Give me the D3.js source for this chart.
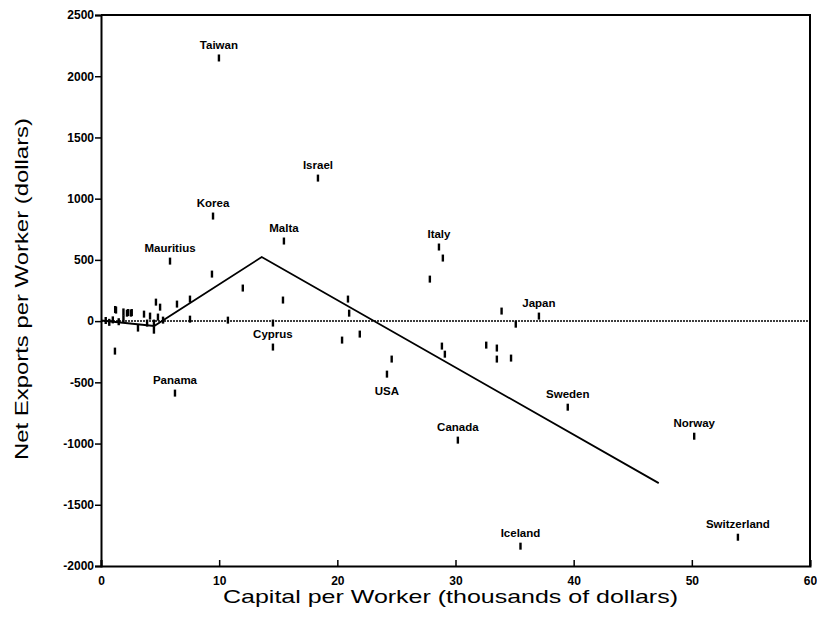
<!DOCTYPE html>
<html>
<head>
<meta charset="utf-8">
<script src="https://cdn.jsdelivr.net/npm/d3@7"></script>
<style>
  body { margin: 0; background: #fff; }
  text { font-family: Arial, "Liberation Sans", Helvetica, sans-serif; }
</style>
</head>
<body>
<div id="chart"></div>
<script>
// labelled countries: capital per worker (thousands $), net exports per worker ($)
var countryNames   = ["Taiwan", "Israel", "Korea", "Malta", "Mauritius", "Italy", "Japan", "Cyprus", "Panama", "USA", "Canada", "Sweden", "Norway", "Iceland", "Switzerland"];
var countryCapital = [9.98, 18.36, 9.48, 15.48, 5.84, 28.6, 37.06, 14.55, 6.26, 24.2, 30.2, 39.5, 50.2, 35.5, 53.9];
var countryExports = [2149, 1168, 858, 654, 490, 605, 41, -212, -588, -433, -972, -703, -940, -1838, -1765];

// unlabelled countries
var otherCapital = [28.93, 27.83, 24.6, 21.9, 20.4, 33.9, 35.1, 28.85, 29.1, 32.6, 33.5, 33.5, 34.7,
  15.4, 20.9, 21.0, 14.55, 9.39, 12.0, 10.74, 7.53, 7.53, 6.43, 5.0, 4.65,
  1.18, 1.27, 2.2, 2.54, 3.64, 3.13, 3.9, 4.15, 4.48, 4.48, 4.82, 5.25,
  0.4, 0.7, 1.0, 1.5, 1.9, 1.2, 1.9, 2.3, 2.6];
var otherExports = [515, 343, -310, -106, -155, 82, -25, -204, -270, -196, -220, -310, -302,
  172, 180, 65, -16, 384, 270, 8, 180, 16, 139, 114, 155,
  -245, 90, 65, 65, 57, -57, -16, 41, -16, -74, 33, 8,
  5, -10, 10, -5, 20, 95, 75, 70, 70];

// piecewise fitted line
var fitCapital = [0, 4.5, 13.6, 47.2];
var fitExports = [5, -40, 523, -1323];

var xTicks = [0, 10, 20, 30, 40, 50, 60];
var yTicks = [-2000, -1500, -1000, -500, 0, 500, 1000, 1500, 2000, 2500];
var labelsBelow = ["USA"];

var w = 817, h = 628;
var plotLeft = 101, plotRight = 810, plotTop = 15, plotBottom = 566;

var svg = d3.select("#chart")
  .append("svg")
  .attr("width", w)
  .attr("height", h);

var x = d3.scaleLinear().domain([0, 60]).range([plotLeft, plotRight]);
var y = d3.scaleLinear().domain([-2000, 2500]).range([plotBottom, plotTop]);

// frame top + right
svg.append("path")
  .attr("d", "M" + plotLeft + "," + plotTop + "H" + plotRight + "V" + plotBottom)
  .attr("fill", "none")
  .attr("stroke", "#000")
  .attr("stroke-width", 2);

// y axis, ticks outside (plain hyphen for negatives)
var yAxis = svg.append("g")
  .attr("transform", "translate(" + plotLeft + ",0)")
  .call(d3.axisLeft(y).tickValues(yTicks).tickSize(6).tickPadding(1).tickFormat(d => String(d)));

// x axis, ticks inside
var xAxis = svg.append("g")
  .attr("transform", "translate(0," + plotBottom + ")")
  .call(d3.axisBottom(x).tickValues(xTicks).tickSize(-6).tickPadding(10).tickFormat(d => String(d)));

[xAxis, yAxis].forEach(function (g) {
  g.select(".domain").attr("stroke-width", 2);
  g.selectAll(".tick line").attr("stroke-width", 1.5);
  g.selectAll(".tick text")
    .attr("font-size", 12)
    .attr("font-weight", "bold")
    .attr("fill", "#000");
});

// dotted zero line
svg.append("line")
  .attr("x1", x(0)).attr("x2", x(60))
  .attr("y1", y(0)).attr("y2", y(0))
  .attr("stroke", "#000")
  .attr("stroke-width", 1.5)
  .attr("stroke-dasharray", "2,1");

// fitted line
var fit = fitCapital.map(function (c, i) { return [c, fitExports[i]]; });
svg.append("path")
  .datum(fit)
  .attr("d", d3.line().x(d => x(d[0])).y(d => y(d[1])))
  .attr("fill", "none")
  .attr("stroke", "#000")
  .attr("stroke-width", 1.8);

// point markers are short vertical bars
function addMarks(cap, exp) {
  svg.append("g")
    .selectAll("rect")
    .data(cap.map(function (c, i) { return [c, exp[i]]; }))
    .enter()
    .append("rect")
    .attr("x", d => x(d[0]) - 1.2)
    .attr("y", d => y(d[1]) - 3.5)
    .attr("width", 2.4)
    .attr("height", 7)
    .attr("fill", "#000");
}
addMarks(otherCapital, otherExports);
addMarks(countryCapital, countryExports);

svg.append("g")
  .selectAll("text")
  .data(countryNames)
  .enter()
  .append("text")
  .attr("x", (d, i) => x(countryCapital[i]))
  .attr("y", (d, i) => y(countryExports[i]) + (labelsBelow.indexOf(d) >= 0 ? 21 : -9))
  .attr("text-anchor", "middle")
  .attr("font-size", 11.5)
  .attr("font-weight", "bold")
  .text(d => d);

// axis titles
svg.append("text")
  .attr("x", (plotLeft + plotRight) / 2 - 5)
  .attr("y", 603)
  .attr("text-anchor", "middle")
  .attr("font-size", 19)
  .attr("textLength", 455)
  .attr("lengthAdjust", "spacingAndGlyphs")
  .text("Capital per Worker (thousands of dollars)");

svg.append("text")
  .attr("transform", "translate(28,289) rotate(-90)")
  .attr("text-anchor", "middle")
  .attr("font-size", 19)
  .attr("textLength", 342)
  .attr("lengthAdjust", "spacingAndGlyphs")
  .text("Net Exports per Worker (dollars)");
</script>
</body>
</html>
